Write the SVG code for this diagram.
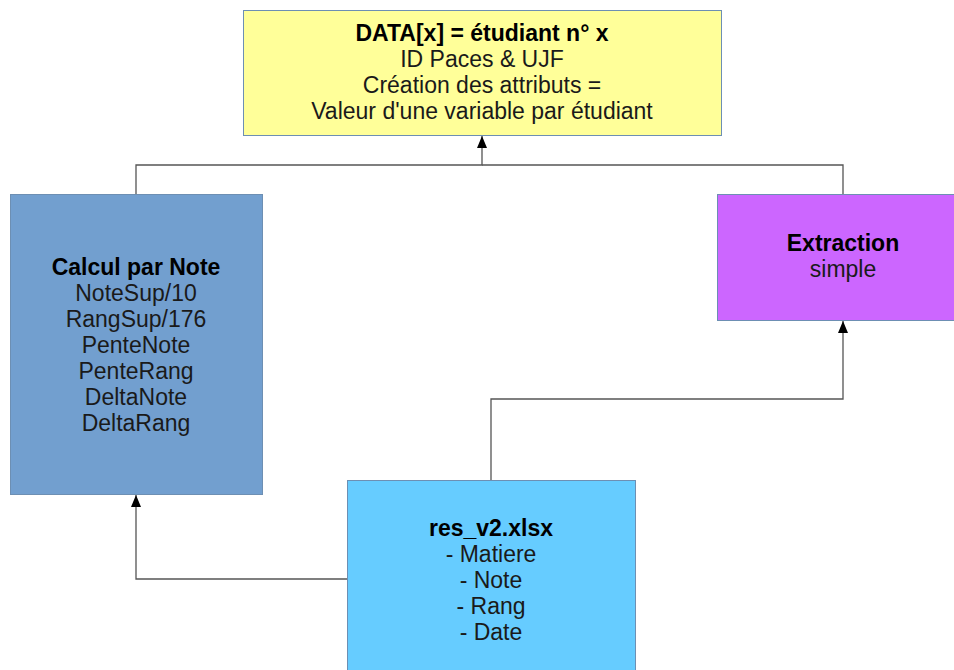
<svg xmlns="http://www.w3.org/2000/svg" width="954" height="670" viewBox="0 0 954 670">
<style>
.box{stroke:#6d8fb3;stroke-width:1}
.t{font-family:"Liberation Sans",Arial,sans-serif;font-size:23px;fill:#1a1a1a;text-anchor:middle}
.b{font-weight:bold;fill:#000}
.c{fill:none;stroke:#555;stroke-width:1.3}
</style>
<defs>
<marker id="ah" markerWidth="12" markerHeight="10" refX="12" refY="5" orient="auto" markerUnits="userSpaceOnUse" viewBox="0 0 12 10">
<path d="M0,0 L12,5 L0,10 Z" fill="#000"/>
</marker>
</defs>
<rect width="954" height="670" fill="#fff"/>
<g id="connectors">
<path class="c" d="M136,194 V165 H482 V136" marker-end="url(#ah)"/>
<path class="c" d="M843,194 V165 H482"/>
<path class="c" d="M491,480 V399 H843 V321" marker-end="url(#ah)"/>
<path class="c" d="M347,579 H136 V495" marker-end="url(#ah)"/>
</g>
<g id="data">
<rect class="box" x="243.5" y="10.5" width="478" height="125" fill="#ffff99"/>
<text class="t b" x="482" y="41">DATA[x] = étudiant n° x</text>
<text class="t" x="482" y="67">ID Paces &amp; UJF</text>
<text class="t" x="482" y="93">Création des attributs =</text>
<text class="t" x="482" y="119">Valeur d'une variable par étudiant</text>
</g>
<g id="calcul">
<rect class="box" x="10.5" y="194.5" width="252" height="300" fill="#729fcf"/>
<text class="t b" x="136" y="275">Calcul par Note</text>
<text class="t" x="136" y="301">NoteSup/10</text>
<text class="t" x="136" y="327">RangSup/176</text>
<text class="t" x="136" y="353">PenteNote</text>
<text class="t" x="136" y="379">PenteRang</text>
<text class="t" x="136" y="405">DeltaNote</text>
<text class="t" x="136" y="431">DeltaRang</text>
</g>
<g id="extraction">
<rect class="box" x="717.5" y="194.5" width="250" height="126" fill="#cc66ff"/>
<text class="t b" x="843" y="251">Extraction</text>
<text class="t" x="843" y="277">simple</text>
</g>
<g id="res">
<rect class="box" x="347.5" y="480.5" width="288" height="200" fill="#66ccff"/>
<text class="t b" x="491" y="536">res_v2.xlsx</text>
<text class="t" x="491" y="562">- Matiere</text>
<text class="t" x="491" y="588">- Note</text>
<text class="t" x="491" y="614">- Rang</text>
<text class="t" x="491" y="640">- Date</text>
</g>
</svg>
